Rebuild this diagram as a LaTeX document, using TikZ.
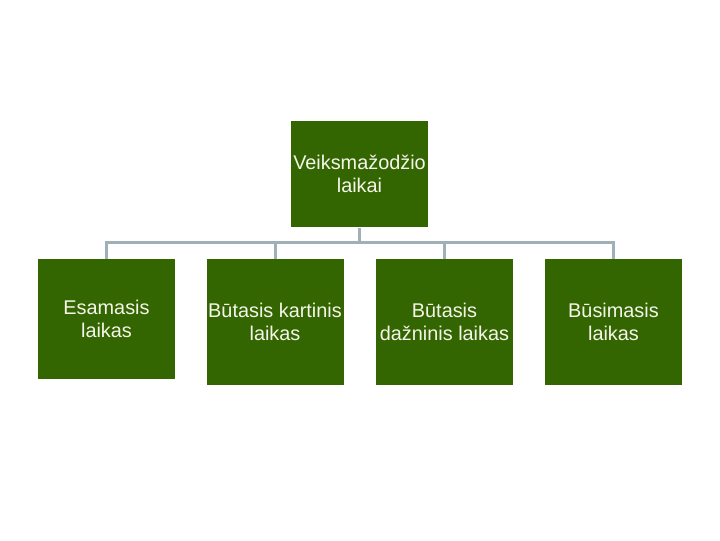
\documentclass[tikz,border=0pt]{standalone}
\usepackage{fontspec}
\setmainfont{Liberation Sans}
\definecolor{boxgreen}{RGB}{51,102,0}
\definecolor{linegray}{RGB}{160,176,182}
\definecolor{txtcream}{RGB}{245,245,235}

\tikzset{every picture/.style={line width=0.75pt}}
\tikzset{
  lbox/.style={fill=boxgreen, draw=none, text=txtcream, align=center, inner sep=0pt,
    minimum width=102.75pt, font=\fontsize{14.9}{17.25}\selectfont},
  conn/.style={draw=linegray, line width=2.25pt}
}

\begin{document}
\begin{tikzpicture}[x=0.75pt,y=0.75pt,yscale=-1,xscale=1]
\useasboundingbox (0,0) rectangle (720,540);

%Shape: Rectangle [top]
\node [lbox, minimum height=79.5pt] (top) at (359.5,174) {Veiksmažodžio\\laikai};
%Shape: Rectangle [children]
\node [lbox, minimum height=90pt] (c1) at (106.5,319) {Esamasis\\laikas};
\node [lbox, minimum height=94.5pt] (c2) at (275,322) {Būtasis kartinis\\laikas};
\node [lbox, minimum height=94.5pt] (c3) at (444.5,322) {Būtasis\\dažninis laikas};
\node [lbox, minimum height=94.5pt] (c4) at (613.5,322) {Būsimasis\\laikas};

%Straight Lines [connectors]
\coordinate (bar) at (359.5,242);
\draw [conn] (top.south) -- (top.south |- bar);
\draw [conn] (c1.north) -- (c1.north |- bar) -- (c4.north |- bar) -- (c4.north);
\draw [conn] (c2.north) -- (c2.north |- bar);
\draw [conn] (c3.north) -- (c3.north |- bar);

\end{tikzpicture}
\end{document}
